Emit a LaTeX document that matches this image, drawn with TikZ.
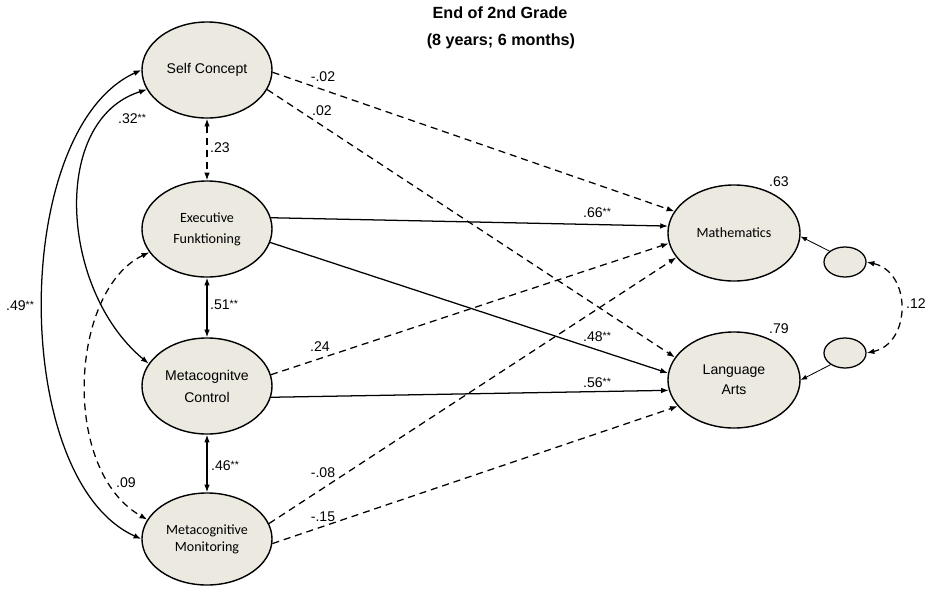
\documentclass[tikz,border=0pt]{standalone}
\usepackage{fontspec}
\setmainfont{Liberation Sans}
\newfontfamily\calfont{Carlito}
\usetikzlibrary{arrows.meta,shapes.geometric}
\definecolor{latent}{RGB}{236,233,224}
\newcommand{\sig}{\raisebox{.3ex}{\fontsize{7.5}{8}\selectfont **}}

\begin{document}
\begin{tikzpicture}[x=0.025cm,y=-0.025cm,
  var/.style={ellipse,draw,line width=1pt,fill=latent,minimum width=3.25cm,minimum height=2.4cm,inner sep=0pt,align=center,font=\fontsize{10}{15}\selectfont},
  cal/.style={font=\calfont\fontsize{10}{15}\selectfont},
  res/.style={ellipse,draw,line width=0.9pt,fill=latent,minimum width=1.05cm,minimum height=0.75cm,inner sep=0pt},
  eff/.style={line width=0.9pt,-{Latex[length=5.5pt,width=4pt]}},
  cov/.style={line width=0.9pt,{Latex[length=5.5pt,width=4pt]}-{Latex[length=5.5pt,width=4pt]}},
  err/.style={line width=0.6pt,-{Latex[length=4.5pt,width=3.5pt]}},
  ns/.style={dash pattern=on 5pt off 3.5pt},
  lbl/.style={font=\fontsize{10}{12}\selectfont,inner sep=0pt},
  ttl/.style={font=\bfseries\fontsize{11.5}{13}\selectfont,inner sep=0pt}]
\useasboundingbox (0,0) rectangle (930,594);

\node[ttl] (t1) at (500,13) {End of 2nd Grade};
\node[ttl] (t2) at (501,41) {(8 years; 6 months)};

\node[var] (sc) at (207,70) {Self Concept};
\node[var,cal] (ef) at (207,229) {Executive\\Funktioning};
\node[var,font=\fontsize{10}{15.6}\selectfont] (mc) at (207,386) {Metacognitve\\Control};
\node[var,cal,font=\calfont\fontsize{10}{12}\selectfont,minimum height=2.3cm] (mm) at (207,539) {Metacognitive\\Monitoring};
\node[var,cal,minimum width=3.3cm] (math) at (734,233) {Mathematics};
\node[var,font=\fontsize{10}{14}\selectfont,minimum width=3.3cm] (la) at (734,380) {Language\\Arts};
\node[res] (e1) at (845,262) {};
\node[res] (e2) at (845,353) {};

\draw[eff,ns] (sc.-2) -- (math.160);
\draw[eff,ns] (sc.-18) -- (la.159);
\draw[cov,ns] (sc.south) -- (ef.north);
\draw[eff] (ef.10) -- (math.174);
\draw[eff] (ef.-12) -- (la.174);
\draw[cov] (ef.south) -- (mc.north);
\draw[eff,ns] (mc.10) -- (math.-171);
\draw[eff] (mc.-10) -- (la.-171);
\draw[cov] (mc.south) -- (mm.north);
\draw[eff,ns] (mm.14) -- (math.-157);
\draw[eff,ns] (mm.-4) -- (la.-155);
\draw[err] (e1.145) -- (math.-3);
\draw[err] (e2.-141) -- (la.0);
\draw[cov,ns] (e1.east) .. controls +(45,10) and +(45,-10) .. (e2.east);
\draw[cov] (sc.180) .. controls (10,130) and (10,480) .. (mm.180);
\draw[cov] (sc.-162) .. controls (50,120) and (60,290) .. (mc.159);
\draw[cov,ns] (ef.-158) .. controls (70,290) and (60,470) .. (mm.162);

\node[lbl] (l32) at (132,119) {.32\sig};
\node[lbl] (l23) at (220,148) {.23};
\node[lbl] (l51) at (224,305) {.51\sig};
\node[lbl] (l46) at (225,466) {.46\sig};
\node[lbl] (l09) at (126,483) {.09};
\node[lbl] (l49) at (20,306) {.49\sig};
\node[lbl] (lm02) at (323,77) {-.02};
\node[lbl] (l02) at (322,111) {.02};
\node[lbl] (l66) at (597,213) {.66\sig};
\node[lbl] (l48) at (597,337) {.48\sig};
\node[lbl] (l56) at (597,383) {.56\sig};
\node[lbl] (l24) at (320,347) {.24};
\node[lbl] (lm08) at (323,473) {-.08};
\node[lbl] (lm15) at (323,517) {-.15};
\node[lbl] (l63) at (779,182) {.63};
\node[lbl] (l79) at (779,329) {.79};
\node[lbl] (l12) at (916,304) {.12};
\end{tikzpicture}
\end{document}
